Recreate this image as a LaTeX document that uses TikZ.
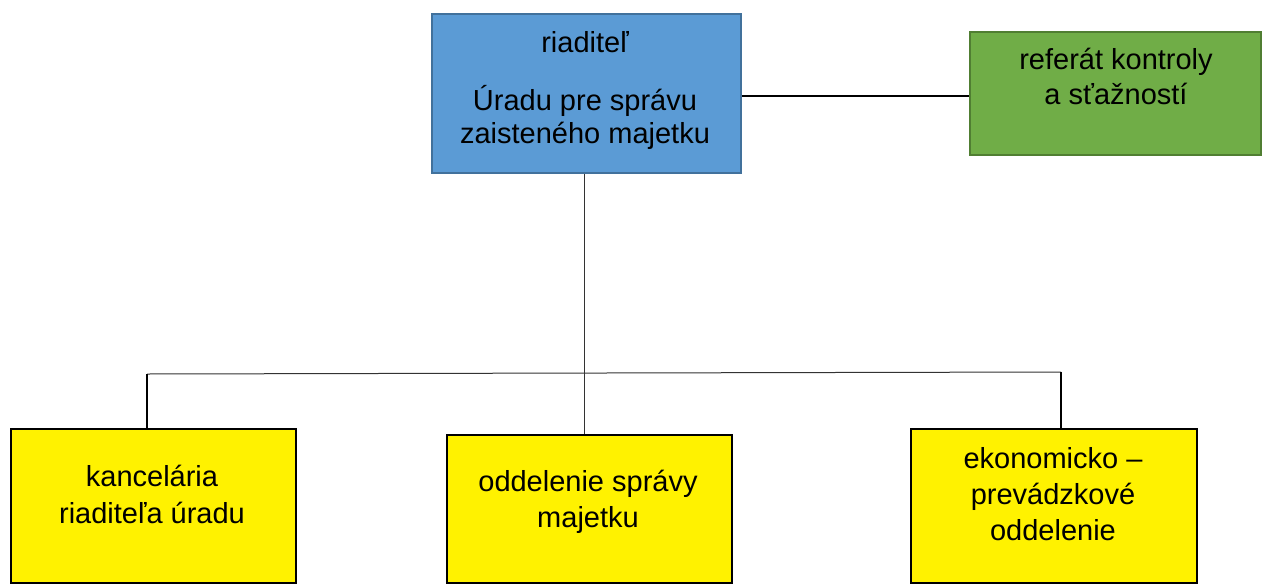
\documentclass[tikz,border=0pt]{standalone}
\usepackage{fontspec}
\setmainfont{Liberation Sans}
\definecolor{bluefill}{HTML}{5B9BD5}
\definecolor{blueline}{HTML}{41719C}
\definecolor{greenfill}{HTML}{70AD47}
\definecolor{greenline}{HTML}{507E32}
\begin{document}
\begin{tikzpicture}[x=1pt,y=-1pt,
  box/.style={draw, line width=2pt, inner sep=0pt, anchor=north west},
  bluebox/.style={box, fill=bluefill, draw=blueline},
  greenbox/.style={box, fill=greenfill, draw=greenline},
  yellowbox/.style={box, fill=yellow, draw=black},
  lbl/.style={anchor=north, inner sep=0pt, align=center, text=black},
  conn/.style={draw=black, line width=1.3pt},
  thin/.style={draw=black!80, line width=1pt}]
\useasboundingbox (0,0) rectangle (1264,584);
% boxes
\node[bluebox, minimum width=309pt, minimum height=159pt] (dir) at (431,13) {};
\node[greenbox, minimum width=291pt, minimum height=123pt] (ref) at (969,31) {};
\node[yellowbox, minimum width=285pt, minimum height=154pt] (o1) at (10,428) {};
\node[yellowbox, minimum width=285pt, minimum height=148pt] (o2) at (446,434) {};
\node[yellowbox, minimum width=286pt, minimum height=154pt] (o3) at (910,428) {};
% texts
\node[lbl, font=\fontsize{29}{33}\selectfont] (tdir) at (585,31) {riaditeľ\\[25pt]Úradu pre správu\\zaisteného majetku};
\node[lbl, font=\fontsize{29}{35}\selectfont] (tref) at (1116,48) {referát kontroly\\a sťažností};
\node[lbl, font=\fontsize{29}{37}\selectfont] (to1) at (152,465) {kancelária\\riaditeľa úradu};
\node[lbl, font=\fontsize{29}{36}\selectfont] (to2) at (588,470) {oddelenie správy\\majetku};
\node[lbl, font=\fontsize{29}{36}\selectfont] (to3) at (1053,447) {ekonomicko –\\prevádzkové\\oddelenie};
% connectors
\draw[conn] ([yshift=-2.5pt]dir.east) -- ([yshift=-2.5pt]ref.west);
\draw[thin] ([xshift=-2.5pt]dir.south) -- ([xshift=-2.5pt]dir.south |- o2.north);
\coordinate (busL) at (147,374);
\coordinate (busR) at (1061,372);
\draw[thin] (busL) -- (busR);
\draw[conn, line width=1.8pt] (busL) -- (busL |- o1.north);
\draw[conn, line width=1.8pt] (busR) -- (busR |- o3.north);
\end{tikzpicture}
\end{document}
